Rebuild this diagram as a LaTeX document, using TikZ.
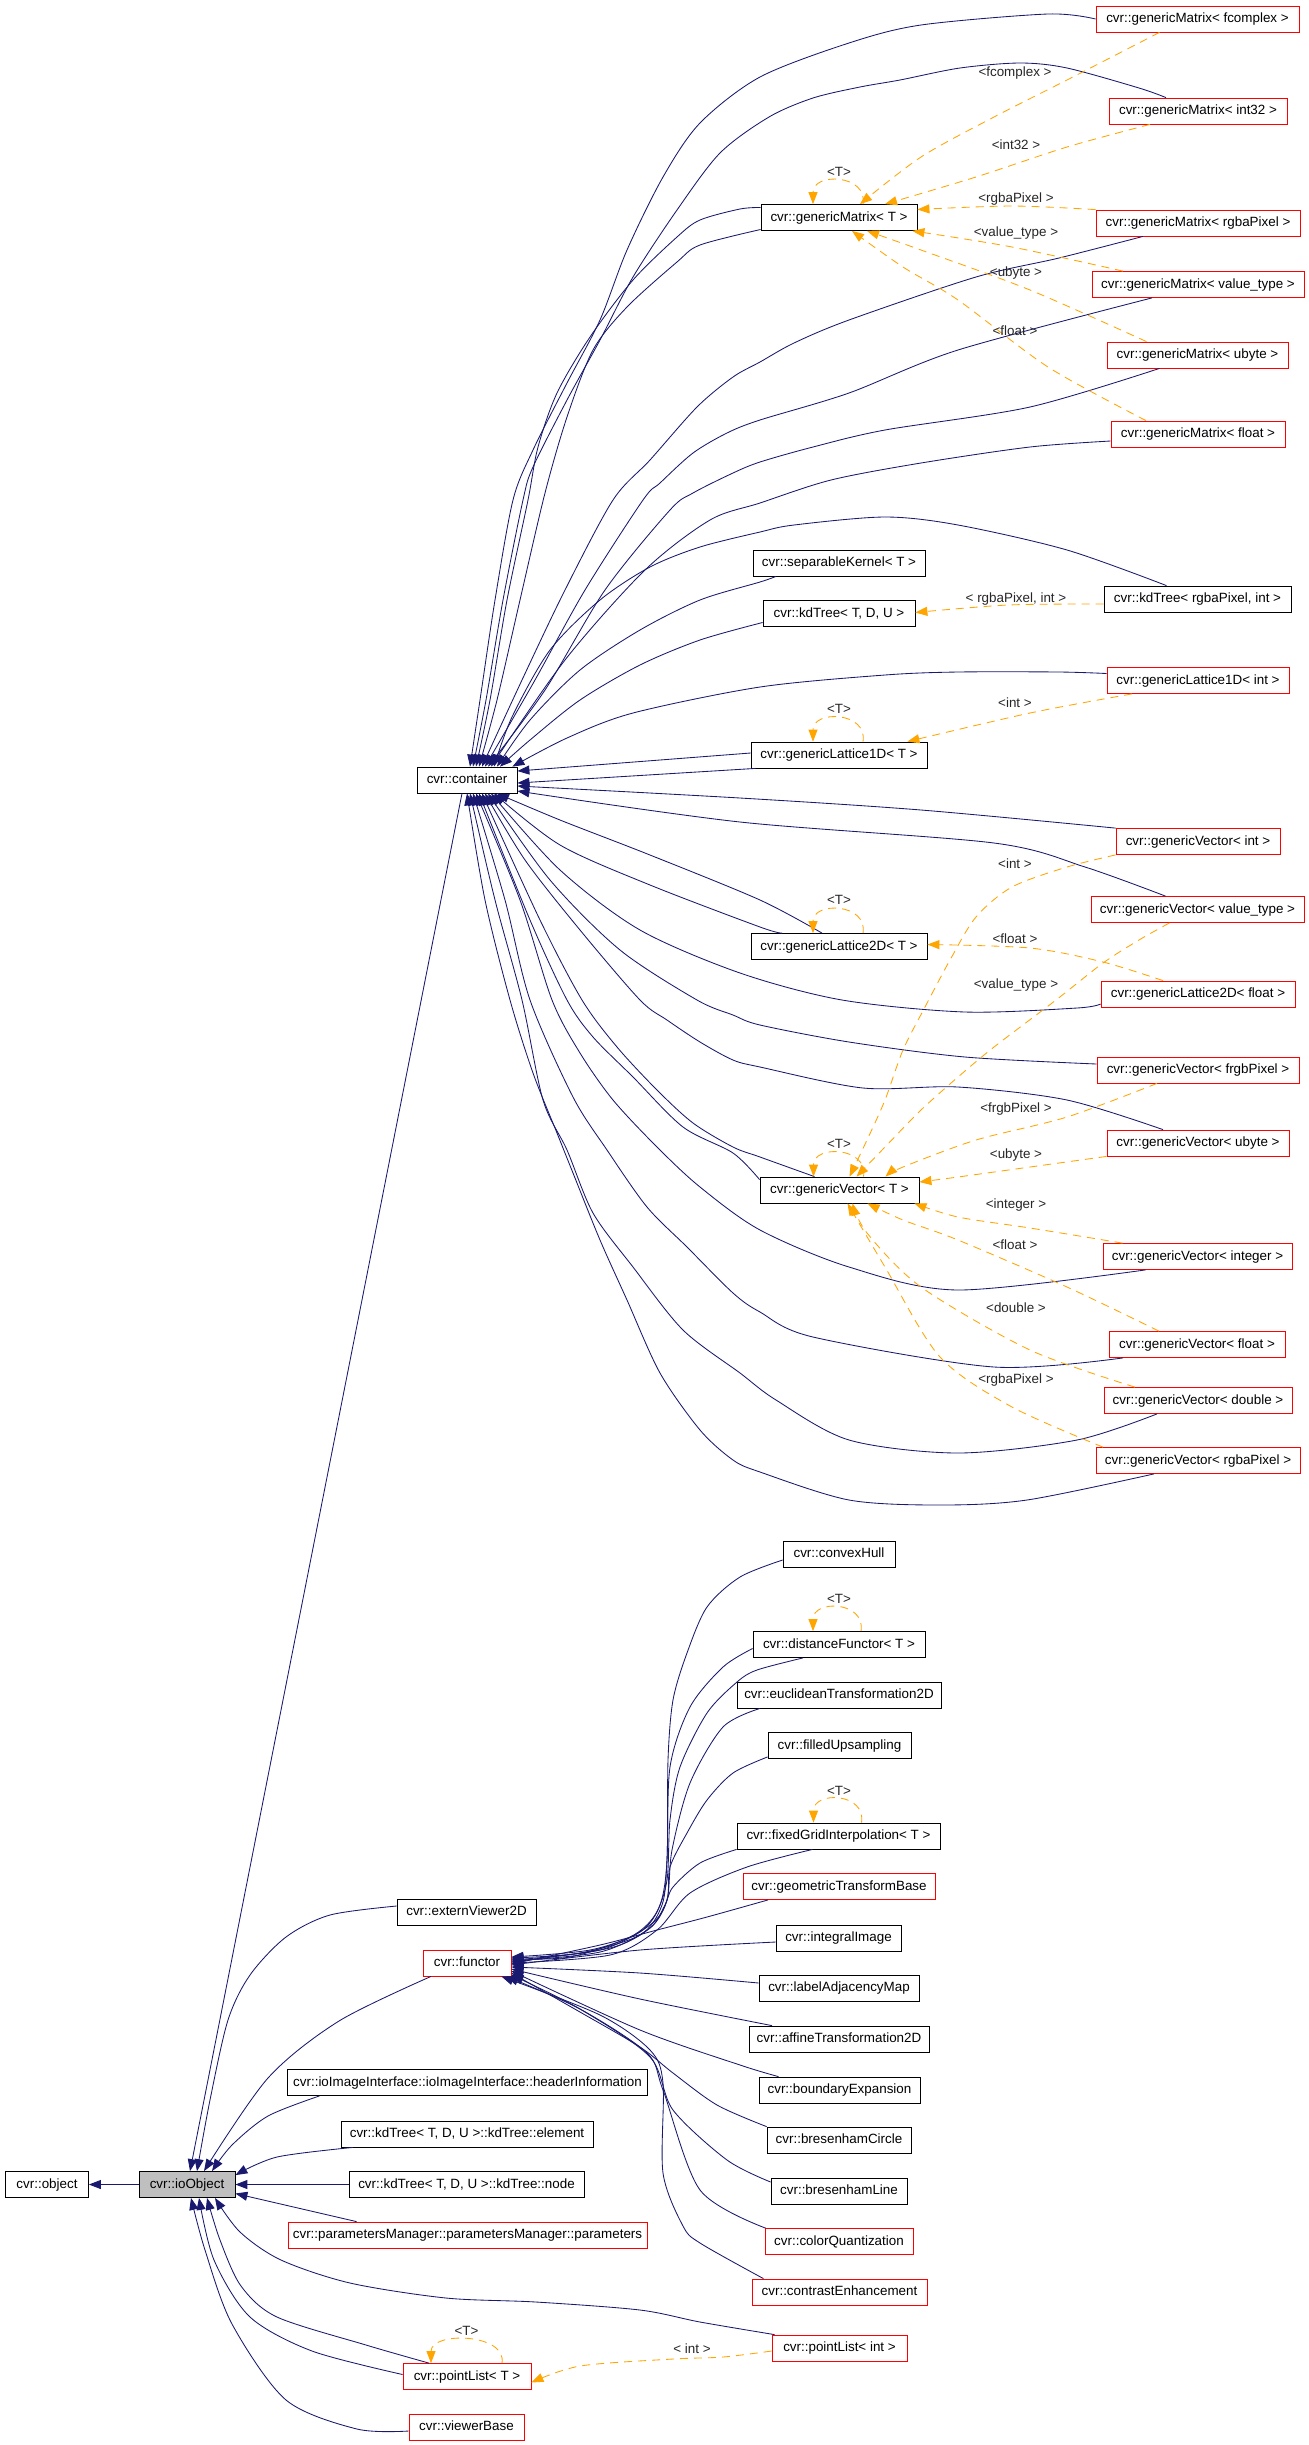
\documentclass[tikz,border=0pt]{standalone}
\usepackage{fontspec}
\setmainfont{Liberation Sans}
\usetikzlibrary{arrows.meta}
\definecolor{navy}{RGB}{25,25,112}
\definecolor{orng}{RGB}{255,165,0}
\definecolor{rd}{RGB}{255,0,0}
\definecolor{gry}{RGB}{191,191,191}
\newcommand\dxfont{\fontsize{13.4}{15}\selectfont}
\tikzset{
  box/.style={draw=black, line width=0.8pt, minimum height=26pt, inner xsep=1pt, inner ysep=0pt, text height=9.8pt, text depth=2.8pt, font=\dxfont, anchor=center},
  rbox/.style={box, draw=rd},
  inh/.style={draw=navy, line width=0.85pt, -{Triangle[length=12pt,width=9pt]}},
  tmpl/.style={draw=orng, line width=0.85pt, dash pattern=on 8pt off 6pt, -{Triangle[length=12pt,width=9pt]}},
  lbl/.style={font=\dxfont, inner sep=0pt, text=black!85},
}
\begin{document}
\begin{tikzpicture}[x=1pt,y=-1pt]
\fill[white] (0,0) rectangle (1309,2445);
\useasboundingbox (0,0) rectangle (1309,2445);
% ---------------- nodes
\node[box, minimum width=83pt] (obj) at (47,2184.5) {cvr::object};
\node[box, minimum width=96pt, fill=gry] (io) at (187,2184.5) {cvr::ioObject};
\node[box, minimum width=100pt] (ctr) at (467,780) {cvr::container};
\node[rbox, minimum width=203pt] (gmfc) at (1197.5,19) {cvr::genericMatrix< fcomplex >};
\node[rbox, minimum width=178pt] (gmi32) at (1198,111) {cvr::genericMatrix< int32 >};
\node[box, minimum width=156pt] (gmT) at (839,217.5) {cvr::genericMatrix< T >};
\node[rbox, minimum width=204pt] (gmrgba) at (1198,223) {cvr::genericMatrix< rgbaPixel >};
\node[rbox, minimum width=212pt] (gmvt) at (1198,284.5) {cvr::genericMatrix< value\_type >};
\node[rbox, minimum width=181pt] (gmub) at (1197.5,355) {cvr::genericMatrix< ubyte >};
\node[rbox, minimum width=174pt] (gmfl) at (1198,434) {cvr::genericMatrix< float >};
\node[box, minimum width=172pt] (sepk) at (839,563) {cvr::separableKernel< T >};
\node[box, minimum width=152pt] (kdT) at (839,613.5) {cvr::kdTree< T, D, U >};
\node[box, minimum width=187pt] (kdRI) at (1197.5,599) {cvr::kdTree< rgbaPixel, int >};
\node[rbox, minimum width=182pt] (l1int) at (1198,680.5) {cvr::genericLattice1D< int >};
\node[box, minimum width=176pt] (l1T) at (839,755) {cvr::genericLattice1D< T >};
\node[rbox, minimum width=164pt] (gvint) at (1198,841.5) {cvr::genericVector< int >};
\node[rbox, minimum width=213pt] (gvvt) at (1197.5,909.5) {cvr::genericVector< value\_type >};
\node[box, minimum width=176pt] (l2T) at (839,946.5) {cvr::genericLattice2D< T >};
\node[rbox, minimum width=194pt] (l2fl) at (1198,994) {cvr::genericLattice2D< float >};
\node[rbox, minimum width=202pt] (gvfrgb) at (1198,1070) {cvr::genericVector< frgbPixel >};
\node[rbox, minimum width=182pt] (gvub) at (1198,1143) {cvr::genericVector< ubyte >};
\node[box, minimum width=159pt] (gvT) at (839.5,1190) {cvr::genericVector< T >};
\node[rbox, minimum width=189pt] (gvinteger) at (1197.5,1256.5) {cvr::genericVector< integer >};
\node[rbox, minimum width=176pt] (gvfl) at (1197,1344.5) {cvr::genericVector< float >};
\node[rbox, minimum width=188pt] (gvdb) at (1198,1400.5) {cvr::genericVector< double >};
\node[rbox, minimum width=204pt] (gvrgba) at (1198,1460.5) {cvr::genericVector< rgbaPixel >};
\node[box, minimum width=112pt] (hull) at (839,1554) {cvr::convexHull};
\node[box, minimum width=172pt] (dist) at (839,1644.5) {cvr::distanceFunctor< T >};
\node[box, minimum width=204pt] (eucl) at (839,1695) {cvr::euclideanTransformation2D};
\node[box, minimum width=143pt] (fill) at (839.5,1745.5) {cvr::filledUpsampling};
\node[box, minimum width=203pt] (fgi) at (838.5,1836) {cvr::fixedGridInterpolation< T >};
\node[rbox, minimum width=192pt] (geo) at (839,1886.5) {cvr::geometricTransformBase};
\node[box, minimum width=125pt] (integ) at (838.5,1938) {cvr::integralImage};
\node[box, minimum width=160pt] (lam) at (839,1988) {cvr::labelAdjacencyMap};
\node[box, minimum width=180pt] (aff) at (839,2039) {cvr::affineTransformation2D};
\node[box, minimum width=161pt] (bnd) at (839.5,2090) {cvr::boundaryExpansion};
\node[box, minimum width=144pt] (bcir) at (839,2140) {cvr::bresenhamCircle};
\node[box, minimum width=136pt] (blin) at (839,2191) {cvr::bresenhamLine};
\node[rbox, minimum width=148pt] (cq) at (839,2241.5) {cvr::colorQuantization};
\node[rbox, minimum width=175pt] (ce) at (839.5,2292) {cvr::contrastEnhancement};
\node[rbox, minimum width=135pt] (plint) at (839.5,2348) {cvr::pointList< int >};
\node[box, minimum width=139pt] (ext) at (466.5,1912) {cvr::externViewer2D};
\node[rbox, minimum width=88pt] (fun) at (467,1963) {cvr::functor};
\node[box, minimum width=360pt] (hdr) at (467.5,2082.5) {cvr::ioImageInterface::ioImageInterface::headerInformation};
\node[box, minimum width=252pt] (kel) at (467,2134) {cvr::kdTree< T, D, U >::kdTree::element};
\node[box, minimum width=235pt] (knode) at (466.5,2184.5) {cvr::kdTree< T, D, U >::kdTree::node};
\node[rbox, minimum width=359pt] (par) at (467.5,2235) {cvr::parametersManager::parametersManager::parameters};
\node[rbox, minimum width=128pt] (plT) at (467,2376.5) {cvr::pointList< T >};
\node[rbox, minimum width=115pt] (vb) at (466.5,2427) {cvr::viewerBase};
% ---------------- ioObject edges
\draw[inh] (io.west) -- (obj.east);
\draw[inh] ([xshift=-5pt]ctr.south) -- ([xshift=3pt]io.north);
\draw[inh] plot[smooth] coordinates {([yshift=6pt]ext.west) (330,1915) (286,1937) (250,1975) (228,2020) (210,2100) ([xshift=10pt]io.north)};
\draw[inh] plot[smooth] coordinates {([xshift=-36pt]fun.south) (339,2021) (268,2078) ([xshift=17pt]io.north)};
\draw[inh] plot[smooth] coordinates {([xshift=-148pt]hdr.south) (268,2116) (232,2145) ([xshift=25pt]io.north)};
\draw[inh] plot[smooth] coordinates {([xshift=-114pt]kel.south) (277,2157) ([yshift=-4pt]io.north east)};
\draw[inh] (knode.west) -- (io.east);
\draw[inh] ([xshift=69pt]par.north west) -- ([yshift=-9pt]io.east);
\draw[inh] plot[smooth] coordinates {([xshift=3pt]plint.north west) (700,2322) (640,2310) (536,2302) (446,2298) (350,2283) (281,2260) (240,2232) ([xshift=28pt]io.south)};
\draw[inh] plot[smooth] coordinates {([xshift=-38pt]plT.north) (366,2345) (277,2317) (241,2286) (220,2240) ([xshift=20pt]io.south)};
\draw[inh] plot[smooth] coordinates {([yshift=2pt]plT.west) (312,2351) (250,2317) (214,2260) ([xshift=12pt]io.south)};
\draw[inh] plot[smooth] coordinates {([yshift=-4pt]vb.west) (357,2429) (286,2400) (232,2324) (205,2250) ([xshift=4pt]io.south)};
% ---------------- container edges (upper fan)
\draw[inh] plot[smooth] coordinates {(gmfc.west) (1048,14) (921,25) (849,43) (760,77) (700,123) (663,177) (627,250) (600,320) (567,383) (533,450) (513,500) (495,600) (480,700) ([xshift=3pt]ctr.north)};
\draw[inh] plot[smooth] coordinates {([xshift=-32pt]gmi32.north) (1139,88) (1067,68) (1020,63) (960,68) (900,80) (860,87) (813,98) (769,117) (720,153) (677,210) (633,277) (600,340) (567,400) (533,467) (523,500) (503,600) (486,700) ([xshift=6pt]ctr.north)};
\draw[inh] plot[smooth] coordinates {([yshift=10pt]gmT.west) (740,209) (700,220) (677,237) (633,280) (590,337) (557,393) (538,447) (528,500) (507,600) (490,700) ([xshift=9pt]ctr.north)};
\draw[inh] plot[smooth] coordinates {([yshift=-12pt]gmT.west) (700,245) (677,262) (627,307) (593,350) (567,417) (545,493) (520,600) (497,700) ([xshift=12pt]ctr.north)};
\draw[inh] plot[smooth] coordinates {([xshift=-55pt]gmrgba.south) (1059,258) (976,277) (849,320) (794,343) (760,362) (733,377) (697,407) (650,460) (613,500) (565,590) (522,680) ([xshift=15pt]ctr.north)};
\draw[inh] plot[smooth] coordinates {([xshift=-46pt]gmvt.south) (958,350) (849,393) (760,420) (727,433) (693,453) (660,483) (643,500) (585,590) (535,680) ([xshift=18pt]ctr.north)};
\draw[inh] plot[smooth] coordinates {([xshift=-38pt]gmub.south) (1030,407) (885,430) (813,447) (760,462) (733,473) (693,493) (670,510) (605,590) (545,690) ([xshift=21pt]ctr.north)};
\draw[inh] plot[smooth] coordinates {([yshift=-7pt]gmfl.west) (1030,447) (921,463) (831,480) (760,503) (710,520) (645,570) (565,660) ([xshift=24pt]ctr.north)};
\draw[inh] plot[smooth] coordinates {([xshift=-31pt]kdRI.north) (1067,550) (958,525) (885,517) (794,525) (760,532) (700,547) (650,567) (600,600) (550,650) (512,717) ([xshift=27pt]ctr.north)};
\draw[inh] plot[smooth] coordinates {([xshift=-63pt]sepk.south) (760,582) (700,600) (640,630) (580,670) (530,720) ([xshift=30pt]ctr.north)};
\draw[inh] plot[smooth] coordinates {([yshift=-9pt]kdT.west) (700,640) (640,665) (580,700) (530,740) ([xshift=33pt]ctr.north)};
\draw[inh] plot[smooth] coordinates {([yshift=7pt]l1int.west) (1059,672) (958,672) (885,675) (760,687) (633,713) (567,738) ([xshift=-5pt]ctr.north east)};
\draw[inh] ([yshift=2pt]l1T.west) -- ([yshift=9pt]ctr.east);
\draw[inh] ([xshift=5pt]l1T.south west) -- ([yshift=-3pt]ctr.east);
\draw[inh] plot[smooth] coordinates {(gvint.north west) (921,810) (740,798) ([yshift=-6pt]ctr.east)};
\draw[inh] plot[smooth] coordinates {([xshift=-32pt]gvvt.north) (1085,867) (994,843) (740,822) ([yshift=-11pt]ctr.east)};
% ---------------- container edges (lower fan)
\draw[inh] plot[smooth] coordinates {([xshift=-17pt]l2T.north) (760,900) (650,855) (560,820) ([xshift=30pt]ctr.south)};
\draw[inh] plot[smooth] coordinates {([xshift=-57pt]l2T.north) (760,927) (650,885) (560,845) ([xshift=27pt]ctr.south)};
\draw[inh] plot[smooth] coordinates {([yshift=-10pt]l2fl.west) (1077,1008) (965,1012) (842,1000) (740,973) (640,930) (560,870) ([xshift=24pt]ctr.south)};
\draw[inh] plot[smooth] coordinates {([yshift=6pt]gvfrgb.west) (965,1057) (849,1042) (760,1025) (733,1015) (697,1000) (620,950) (550,880) ([xshift=21pt]ctr.south)};
\draw[inh] plot[smooth] coordinates {([xshift=-35pt]gvub.north) (1067,1100) (958,1087) (863,1088) (760,1067) (733,1060) (700,1042) (667,1020) (640,1000) (580,930) (525,860) ([xshift=18pt]ctr.south)};
\draw[inh] plot[smooth] coordinates {([xshift=-25pt]gvT.north) (760,1157) (733,1147) (693,1123) (657,1090) (617,1047) (582,1000) (540,920) ([xshift=15pt]ctr.south)};
\draw[inh] plot[smooth] coordinates {([yshift=-3pt]gvT.north west) (733,1153) (683,1127) (633,1077) (593,1037) (567,1000) (530,920) ([xshift=12pt]ctr.south)};
\draw[inh] plot[smooth] coordinates {([xshift=-52pt]gvinteger.south) (958,1290) (849,1267) (760,1230) (700,1187) (657,1147) (613,1100) (580,1053) (552,1000) (520,900) ([xshift=9pt]ctr.south)};
\draw[inh] plot[smooth] coordinates {([xshift=-74pt]gvfl.south) (994,1367) (813,1337) (760,1312) (733,1293) (687,1247) (647,1207) (607,1150) (573,1097) (530,1000) (505,900) ([xshift=6pt]ctr.south)};
\draw[inh] plot[smooth] coordinates {([xshift=-41pt]gvdb.south) (1077,1440) (958,1453) (849,1440) (776,1400) (740,1373) (683,1330) (633,1267) (593,1213) (567,1150) (543,1100) (522,1000) (495,900) ([xshift=3pt]ctr.south)};
\draw[inh] plot[smooth] coordinates {([xshift=-44pt]gvrgba.south) (1027,1500) (940,1505) (849,1500) (760,1472) (733,1460) (700,1430) (660,1373) (627,1300) (600,1240) (573,1173) (557,1133) (533,1073) (510,1000) (485,900) (ctr.south)};
% ---------------- functor edges
\draw[inh] plot[smooth] coordinates {([yshift=-6pt]hull.west) (740,1577) (707,1607) (687,1653) (673,1700) (668,1760) (667,1860) (660,1905) (640,1932) (590,1950) ([yshift=6pt]fun.east)};
\draw[inh] plot[smooth] coordinates {([yshift=-4pt]dist.west) (723,1667) (690,1707) (670,1767) (667,1860) (662,1905) (640,1935) (580,1953) ([yshift=5pt]fun.east)};
\draw[inh] plot[smooth] coordinates {([xshift=-36pt]dist.south) (757,1670) (737,1682) (707,1713) (680,1767) (670,1820) (667,1880) (655,1915) (630,1937) (570,1957) ([yshift=4pt]fun.east)};
\draw[inh] plot[smooth] coordinates {([xshift=-79pt]eucl.south) (723,1727) (690,1783) (672,1850) (667,1900) (650,1925) (600,1950) ([yshift=3pt]fun.east)};
\draw[inh] plot[smooth] coordinates {([yshift=2pt]fill.south west) (733,1773) (707,1800) (687,1833) (670,1867) (667,1900) (650,1928) (600,1952) ([yshift=2pt]fun.east)};
\draw[inh] plot[smooth] coordinates {(fgi.south west) (700,1863) (673,1887) (665,1905) (650,1928) (610,1948) ([yshift=1pt]fun.east)};
\draw[inh] plot[smooth] coordinates {([xshift=-26pt]fgi.south) (747,1867) (690,1893) (657,1930) (610,1955) (fun.east)};
\draw[inh] plot[smooth] coordinates {([xshift=-71pt]geo.south) (707,1917) (657,1930) (600,1945) ([yshift=-1pt]fun.east)};
\draw[inh] plot[smooth] coordinates {([yshift=-4pt]integ.west) (640,1950) ([yshift=-2pt]fun.east)};
\draw[inh] plot[smooth] coordinates {([yshift=5pt]lam.west) (640,1973) ([yshift=-4pt]fun.east)};
\draw[inh] plot[smooth] coordinates {([xshift=-67pt]aff.north) (640,1999) ([yshift=-6pt]fun.east)};
\draw[inh] plot[smooth] coordinates {([xshift=-61pt]bnd.north) (740,2065) (640,2030) ([yshift=-8pt]fun.east)};
\draw[inh] plot[smooth] coordinates {(bcir.north west) (717,2105) (673,2073) (640,2047) (580,2012) ([yshift=-10pt]fun.east)};
\draw[inh] plot[smooth] coordinates {([yshift=9pt]blin.west) (727,2160) (673,2110) (650,2057) (580,2009) ([yshift=-12pt]fun.east)};
\draw[inh] plot[smooth] coordinates {([xshift=1pt]cq.north west) (700,2190) (663,2090) (647,2053) (580,2009) ([xshift=-5pt]fun.south east)};
\draw[inh] plot[smooth] coordinates {([xshift=-76pt]ce.north) (700,2243) (683,2226) (663,2173) (663,2083) (650,2050) (600,2015) ([xshift=-10pt]fun.south east)};
% ---------------- template edges
\draw[tmpl] plot[smooth] coordinates {([xshift=-38pt]gmfc.south) (1067,80) (994,117) (921,157) ([xshift=21pt]gmT.north)};
\draw[tmpl] plot[smooth] coordinates {([xshift=-48pt]gmi32.south) (1067,147) (976,177) ([xshift=46pt]gmT.north)};
\draw[tmpl] plot[smooth] coordinates {(gmrgba.north west) (1012,206) ([yshift=8pt]gmT.east)};
\draw[tmpl] plot[smooth] coordinates {([xshift=-75pt]gmvt.north) (1012,247) ([xshift=-5pt]gmT.south east)};
\draw[tmpl] plot[smooth] coordinates {([xshift=-51pt]gmub.north) (1030,290) (921,250) ([xshift=28pt]gmT.south)};
\draw[tmpl] plot[smooth] coordinates {([xshift=-52pt]gmfl.north) (1048,367) (958,300) (903,267) ([xshift=13pt]gmT.south)};
\draw[tmpl] ([xshift=24pt]gmT.north) .. controls +(5,-30) and +(0,-32) .. ([xshift=-26pt]gmT.north);
\draw[tmpl] plot[smooth] coordinates {([yshift=-5pt]kdRI.west) (1008,605) ([yshift=1pt]kdT.east)};
\draw[tmpl] plot[smooth] coordinates {([xshift=-66pt]l1int.south) (1030,713) ([xshift=-20pt]l1T.north east)};
\draw[tmpl] ([xshift=24pt]l1T.north) .. controls +(5,-30) and +(0,-32) .. ([xshift=-26pt]l1T.north);
\draw[tmpl] plot[smooth] coordinates {([xshift=-35pt]l2fl.north) (1103,962) (1030,948) ([yshift=2pt]l2T.east)};
\draw[tmpl] ([xshift=24pt]l2T.north) .. controls +(5,-30) and +(0,-32) .. ([xshift=-26pt]l2T.north);
\draw[tmpl] plot[smooth] coordinates {(gvint.south west) (1067,867) (1012,887) (976,917) (950,960) (925,1007) (903,1050) (885,1100) (867,1140) ([xshift=10pt]gvT.north)};
\draw[tmpl] plot[smooth] coordinates {([xshift=-28pt]gvvt.south) (1139,940) (1103,963) (1056,1000) (994,1047) (958,1077) (921,1110) (885,1147) ([xshift=17pt]gvT.north)};
\draw[tmpl] plot[smooth] coordinates {([xshift=-41pt]gvfrgb.south) (1067,1117) (976,1140) (903,1167) ([xshift=46pt]gvT.north)};
\draw[tmpl] plot[smooth] coordinates {(gvub.south west) (1030,1167) (958,1177) ([yshift=8pt]gvT.east)};
\draw[tmpl] plot[smooth] coordinates {([xshift=-75pt]gvinteger.north) (1030,1228) (958,1217) ([xshift=-5pt]gvT.south east)};
\draw[tmpl] plot[smooth] coordinates {([xshift=-38pt]gvfl.north) (1067,1287) (958,1240) (903,1220) ([xshift=28pt]gvT.south)};
\draw[tmpl] plot[smooth] coordinates {([xshift=-63pt]gvdb.north) (1030,1350) (921,1287) (867,1233) ([xshift=13pt]gvT.south)};
\draw[tmpl] plot[smooth] coordinates {([xshift=-95pt]gvrgba.north) (1012,1407) (940,1357) (885,1267) ([xshift=8pt]gvT.south)};
\draw[tmpl] ([xshift=24pt]gvT.north) .. controls +(5,-30) and +(0,-32) .. ([xshift=-26pt]gvT.north);
\draw[tmpl] ([xshift=22pt]dist.north) .. controls +(5,-30) and +(0,-32) .. ([xshift=-26pt]dist.north);
\draw[tmpl] ([xshift=23pt]fgi.north) .. controls +(5,-30) and +(0,-32) .. ([xshift=-25pt]fgi.north);
\draw[tmpl] ([xshift=35pt]plT.north) .. controls +(5,-30) and +(0,-32) .. ([xshift=-36pt]plT.north);
\draw[tmpl] plot[smooth] coordinates {([yshift=-3pt]plint.west) (723,2357) (673,2359) (580,2366) ([yshift=-6pt]plT.east)};
% ---------------- labels
\node[lbl] (t1) at (839,172) {<T>};
\node[lbl] (t2) at (839,709) {<T>};
\node[lbl] (t3) at (839,900) {<T>};
\node[lbl] (t4) at (839,1144) {<T>};
\node[lbl] (t5) at (839,1599) {<T>};
\node[lbl] (t6) at (839,1791) {<T>};
\node[lbl] (t7) at (466.5,2331) {<T>};
\node[lbl] (l1) at (1015,73) {<fcomplex >};
\node[lbl] (l2) at (1016,145) {<int32 >};
\node[lbl] (l3) at (1016,199) {<rgbaPixel >};
\node[lbl] (l4) at (1016,233) {<value\_type >};
\node[lbl] (l5) at (1016,273) {<ubyte >};
\node[lbl] (l6) at (1015,331) {<float >};
\node[lbl] (l7) at (1016,599) {< rgbaPixel, int >};
\node[lbl] (l8) at (1015,703) {<int >};
\node[lbl] (l9) at (1015,864) {<int >};
\node[lbl] (l10) at (1015,939) {<float >};
\node[lbl] (l11) at (1016,985) {<value\_type >};
\node[lbl] (l12) at (1016,1109) {<frgbPixel >};
\node[lbl] (l13) at (1016,1155) {<ubyte >};
\node[lbl] (l14) at (1016,1205) {<integer >};
\node[lbl] (l15) at (1015,1245) {<float >};
\node[lbl] (l16) at (1016,1308) {<double >};
\node[lbl] (l17) at (1016,1380) {<rgbaPixel >};
\node[lbl] (l18) at (692,2349) {< int >};
\end{tikzpicture}
\end{document}
